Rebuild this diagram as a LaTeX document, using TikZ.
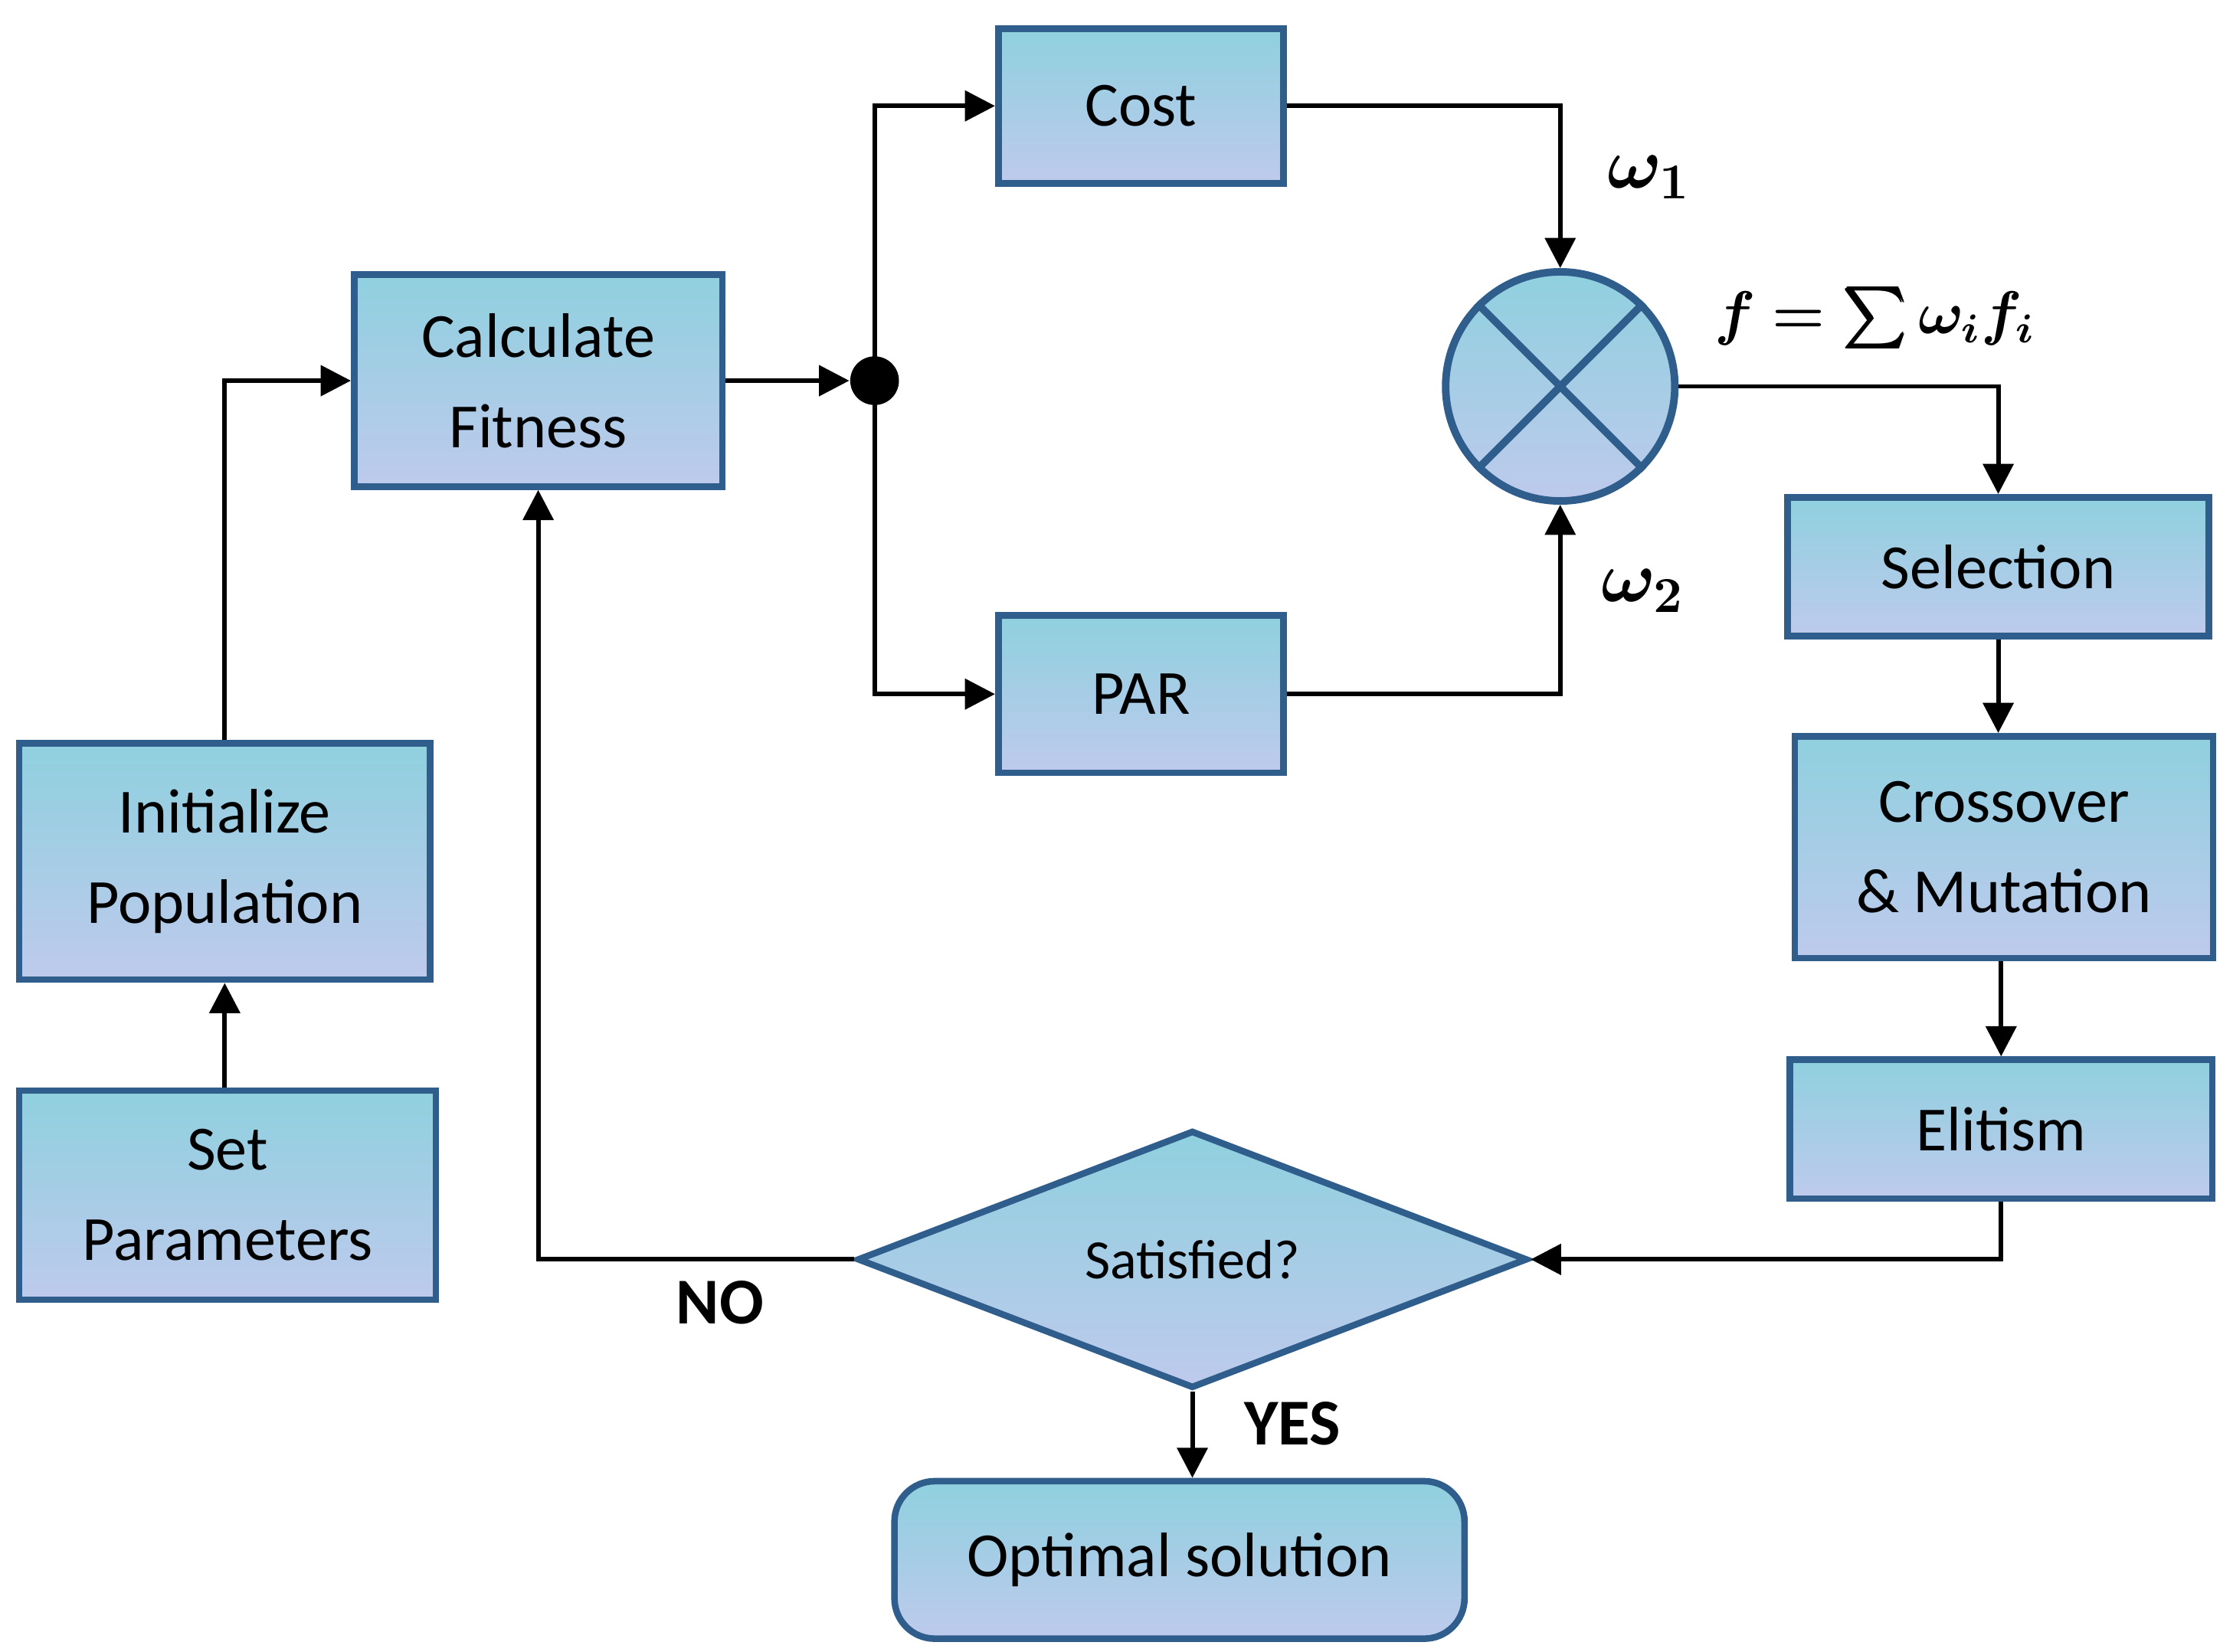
\documentclass[tikz,border=0pt]{standalone}
\usepackage{fontspec}
\usepackage{amsmath,bm}
\setmainfont{Carlito}
\usetikzlibrary{shapes.geometric,arrows.meta}
\definecolor{bd}{HTML}{2F5D8C}
\definecolor{ftop}{HTML}{8FD0DF}
\definecolor{fbot}{HTML}{BECAEC}
\begin{document}
\begin{tikzpicture}[x=0.01cm,y=-0.01cm,
 box/.style={draw=bd,line width=1.3pt,top color=ftop,bottom color=fbot,inner sep=0pt,align=center,font=\fontsize{12.5}{18}\selectfont},
 ar/.style={line width=0.9pt,-{Triangle[length=6pt,width=6pt]}}]
\useasboundingbox (0,0) rectangle (1560,1154);
\node[box,minimum width=1.99cm,minimum height=1.08cm] (cost) at (797,74) {Cost};
\node[box,minimum width=2.57cm,minimum height=1.48cm] (calc) at (376,266) {Calculate\\Fitness};
\node[box,minimum width=1.99cm,minimum height=1.10cm] (par) at (797,485) {PAR};
\node[circle,draw=bd,line width=1.5pt,top color=ftop,bottom color=fbot,minimum size=1.6cm,inner sep=0pt] (mix) at (1090,270) {};
\draw[bd,line width=1.5pt] (mix.45)--(mix.225) (mix.135)--(mix.315);
\node[box,minimum width=2.94cm,minimum height=0.97cm] (sel) at (1396,396) {Selection};
\node[box,minimum width=2.92cm,minimum height=1.55cm] (cross) at (1400,592) {Crossover\\\& Mutation};
\node[box,minimum width=2.95cm,minimum height=0.97cm] (eli) at (1398,789) {Elitism};
\node[box,minimum width=2.87cm,minimum height=1.65cm] (init) at (157,602) {Initialize\\Population};
\node[box,minimum width=2.91cm,minimum height=1.46cm] (set) at (159,835) {Set\\Parameters};
\node[diamond,box,aspect=2.6,minimum width=4.68cm,minimum height=1.80cm,font=\fontsize{11}{13}\selectfont] (sat) at (833,880) {Satisfied?};
\node[box,rounded corners=8pt,minimum width=3.98cm,minimum height=1.10cm] (opt) at (824,1090) {Optimal solution};
\node[circle,fill=black,minimum size=0.34cm,inner sep=0pt] (dot) at (611,266) {};
\draw[ar] (set.north -| init.south) -- (init.south);
\draw[ar] (init.north) |- (calc.west);
\draw[ar] (calc.east) -- (dot.west);
\draw[ar] (dot.center) |- (cost.west);
\draw[ar] (dot.center) |- (par.west);
\draw[ar] (cost.east) -| (mix.north);
\draw[ar] (par.east) -| (mix.south);
\draw[ar] (mix.east) -| (sel.north);
\draw[ar] (sel.south) -- (cross.north -| sel.south);
\draw[ar] (cross.south -| eli.north) -- (eli.north);
\draw[ar] (eli.south) |- (sat.east);
\draw[ar] (sat.west) -| (calc.south);
\draw[ar] (sat.south) -- (sat.south |- opt.north);
\node[font=\bfseries\fontsize{13}{15}\selectfont] at (503,910) {NO};
\node[font=\bfseries\fontsize{13}{15}\selectfont] at (903,995) {YES};
\node[font=\Large] at (1152,124) {$\bm{\omega_1}$};
\node[font=\Large] at (1148,413) {$\bm{\omega_2}$};
\node[font=\large] at (1310,222) {$\bm{f=\sum\omega_i f_i}$};
\end{tikzpicture}
\end{document}
